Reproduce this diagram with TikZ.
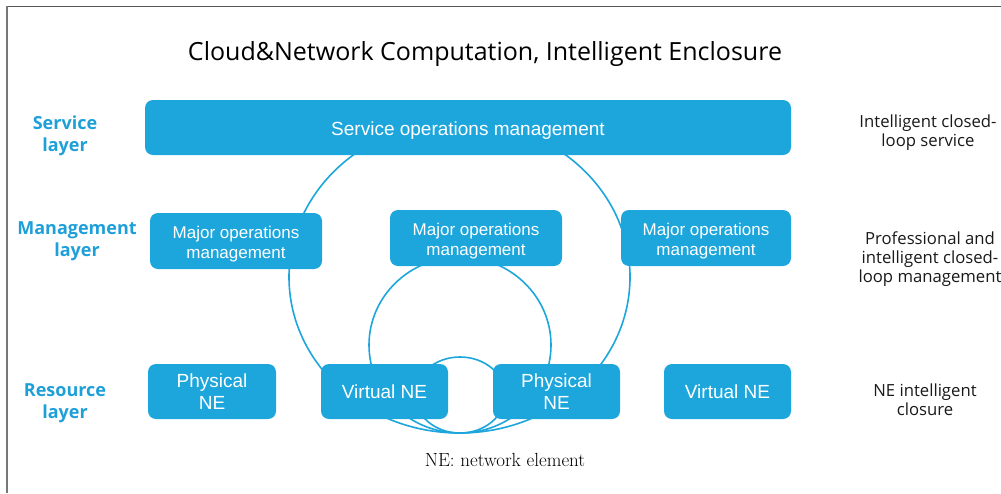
\documentclass[tikz,border=0pt]{standalone}
\usepackage{fontspec}
\newfontfamily\boxfont{Liberation Sans}
\newfontfamily\uifont{Open Sans}
\definecolor{netblue}{HTML}{1DA6DC}
\definecolor{labelblue}{HTML}{1E9FD8}
\definecolor{framegray}{HTML}{555555}
\tikzset{
  blockbox/.style={fill=netblue, draw=none, rounded corners=8pt, text=white,
    align=center, inner sep=0pt},
  boxtext/.style={text=white, align=center, inner sep=0pt},
  svcfont/.style={font=\boxfont\fontsize{19}{22}\selectfont,
    text height=19pt, text depth=4pt},
  mgmtfont/.style={font=\boxfont\fontsize{17}{20}\selectfont},
  resfont/.style={font=\boxfont\fontsize{19}{22}\selectfont},
  layerlabel/.style={text=labelblue, align=center,
    font=\uifont\bfseries\fontsize{18}{22}\selectfont},
  sidenote/.style={text=black!90, align=center,
    font=\uifont\fontsize{16.7}{19}\selectfont},
  loop/.style={draw=netblue, line width=1.6pt}
}
\begin{document}
\begin{tikzpicture}[x=1pt,y=-1pt]
\useasboundingbox (0,0) rectangle (1001,493);

% frame
\draw[framegray, line width=1.2pt] (6,6.5) -- (1001,6.5);
\draw[framegray!80, line width=1.6pt] (7,6) -- (7,493);

% title
\node[font=\uifont\fontsize{25}{30}\selectfont] (title) at (485,54)
  {Cloud\&Network Computation, Intelligent Enclosure};

% closed loops (drawn first, boxes cover them)
\coordinate (outerc) at (459.5,277);
\coordinate (midc) at (460,345);
\coordinate (innerc) at (460,395);
\draw[loop] (outerc) ellipse [x radius=170.5, y radius=156];
\draw[loop] (midc) ellipse [x radius=91, y radius=88];
\draw[loop] (innerc) ellipse [x radius=45, y radius=38];

% service layer
\node[blockbox, svcfont, minimum width=646pt, minimum height=55pt] (svc)
  at (468,127.5) {Service operations management};

% management layer: boxes, then their two-line captions
\node[blockbox, minimum width=172pt, minimum height=56pt] (mgmtA) at (236,241) {};
\node[blockbox, minimum width=172pt, minimum height=56pt] (mgmtB) at (476,238) {};
\node[blockbox, minimum width=170pt, minimum height=56pt] (mgmtC) at (706,238) {};
\node[boxtext, mgmtfont] (mgmtAtxt) at (236,244.5) {Major operations\\management};
\node[boxtext, mgmtfont] (mgmtBtxt) at (476,241.5) {Major operations\\management};
\node[boxtext, mgmtfont] (mgmtCtxt) at (706,241.5) {Major operations\\management};

% resource layer
\node[blockbox, resfont, minimum width=128pt, minimum height=55pt] (resA)
  at (212,391.5) {Physical\\NE};
\node[blockbox, resfont, minimum width=127pt, minimum height=55pt] (resB)
  at (384.5,391.5) {Virtual NE};
\node[blockbox, resfont, minimum width=127pt, minimum height=55pt] (resC)
  at (556.5,391.5) {Physical\\NE};
\node[blockbox, resfont, minimum width=127pt, minimum height=55pt] (resD)
  at (727.5,391.5) {Virtual NE};

% layer labels
\node[layerlabel] (lsvc) at (65,136) {Service\\layer};
\node[layerlabel] (lmgmt) at (77,241) {Management\\layer};
\node[layerlabel] (lres) at (65,403) {Resource\\layer};

% side notes
\node[sidenote] (nsvc) at (928,133) {Intelligent closed-\\loop service};
\node[sidenote] (nmgmt) at (930,259) {Professional and\\intelligent closed-\\loop management};
\node[sidenote] (nres) at (925,399.5) {NE intelligent\\closure};

% footnote
\node[font=\fontsize{19}{22}\selectfont] (foot) at (505,460) {NE: network element};
\end{tikzpicture}
\end{document}
